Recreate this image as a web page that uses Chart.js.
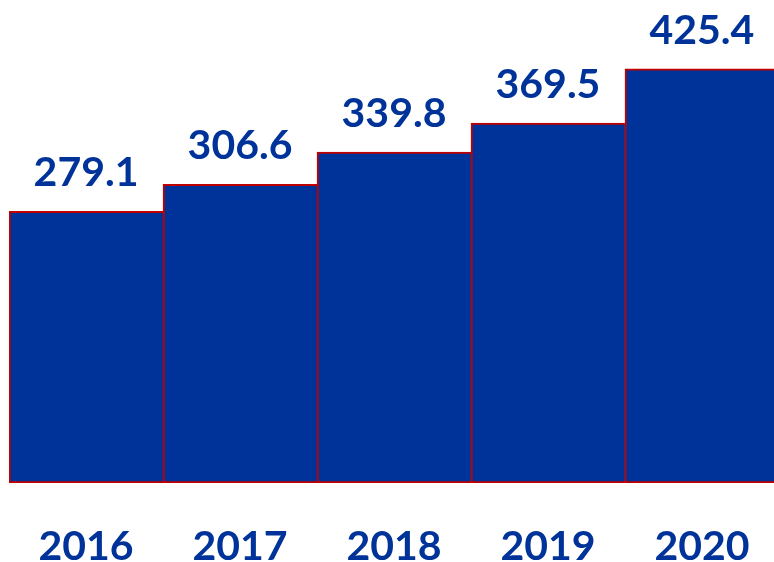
<!DOCTYPE html>
<html>
<head>
<meta charset="utf-8">
<script src="https://cdn.jsdelivr.net/npm/chart.js@4"></script>
<style>
    html, body { margin: 0; padding: 0; background: #fff; overflow: hidden; }
    #wrap { position: absolute; left: -4px; top: 0; width: 796px; height: 610px; }
</style>
</head>
<body>
<div id="wrap"><canvas id="chart1"></canvas></div>
<script>
const years = ['2016', '2017', '2018', '2019', '2020'];
const values = [279.1, 306.6, 339.8, 369.5, 425.4];

const blue = '#003399';
const red = '#C00000';

// value labels above each bar
const valueLabels = {
    id: 'valueLabels',
    afterDatasetsDraw(chart) {
        const ctx = chart.ctx;
        const meta = chart.getDatasetMeta(0);
        ctx.save();
        ctx.font = 'bold 41px Lato';
        ctx.fillStyle = blue;
        ctx.textAlign = 'center';
        ctx.textBaseline = 'alphabetic';
        meta.data.forEach((bar, i) => {
            ctx.fillText(values[i].toFixed(1), bar.x, bar.y - 25);
        });
        ctx.restore();
    }
};

const eval_chart1 = (function () {
    const ctx = document.getElementById('chart1');
    const data = {
        labels: years,
        datasets: [{
            data: values,
            backgroundColor: blue,
            borderColor: red,
            borderWidth: { top: 2, left: 2, bottom: 2, right: 0 },
            borderSkipped: false,
            barPercentage: 1,
            categoryPercentage: 1
        }]
    };
    const config = {
        type: 'bar',
        data: data,
        options: {
            responsive: true,
            maintainAspectRatio: false,
            animation: false,
            layout: { padding: { left: 4, right: 4, top: 0, bottom: 0 } },
            plugins: {
                legend: { display: false },
                tooltip: { enabled: false }
            },
            scales: {
                y: { display: false, min: 0, max: 496 },
                x: {
                    grid: { display: false, drawTicks: false },
                    border: { display: false },
                    ticks: {
                        color: blue,
                        padding: 43,
                        font: { family: 'Lato', weight: 'bold', size: 41, lineHeight: 1 }
                    }
                }
            }
        },
        plugins: [valueLabels]
    };
    new Chart(ctx, config);
});

eval_chart1();
</script>
</body>
</html>
